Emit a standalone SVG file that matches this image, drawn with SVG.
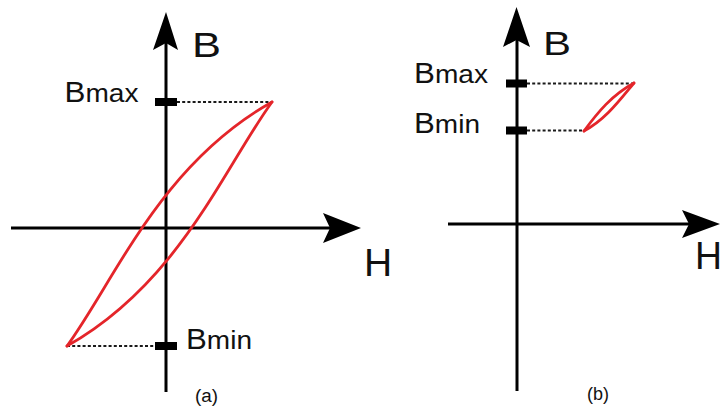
<svg xmlns="http://www.w3.org/2000/svg" width="723" height="408" viewBox="0 0 723 408">
  <style>
    .axis{stroke:#000;stroke-width:3;fill:none}
    .head{fill:#000;stroke:none}
    .tick{fill:#000;stroke:none}
    .dot{stroke:#1a1a1a;stroke-width:1.8;stroke-dasharray:3 2.2;fill:none}
    .loop{stroke:#e4252a;stroke-width:2.8;fill:none;stroke-linejoin:round;stroke-linecap:round}
    text{font-family:"Liberation Sans",Arial,sans-serif;fill:#111}
    .sub{font-size:26px}
  </style>
  <rect width="723" height="408" fill="#fff"/>
  <g id="panel-a">
    <g id="axes-a">
      <line class="axis" x1="166" y1="40" x2="166" y2="392"/>
      <line class="axis" x1="11" y1="228" x2="330" y2="228"/>
      <path class="head" d="M166,12 L178,50 L166,43 L153,50 Z"/>
      <path class="head" d="M361,228 L323,243 L330,228 L323,213 Z"/>
    </g>
    <g id="ticks-a">
      <rect class="tick" x="155" y="98" width="22" height="8"/>
      <rect class="tick" x="155" y="342" width="22" height="8"/>
      <line class="dot" x1="177" y1="102" x2="272" y2="102"/>
      <line class="dot" x1="67" y1="346" x2="155" y2="346"/>
    </g>
    <g id="loop-a">
      <path class="loop" d="M67,346 C115,280 160,165 272,102"/>
      <path class="loop" d="M67,346 C179,283 224,168 272,102"/>
    </g>
    <g id="labels-a">
      <text x="192" y="57" font-size="35" textLength="29" lengthAdjust="spacingAndGlyphs">B</text>
      <text x="364" y="276" font-size="39">H</text>
      <text x="64.5" y="102" font-size="29" textLength="74" lengthAdjust="spacingAndGlyphs">B<tspan class="sub">max</tspan></text>
      <text x="186" y="349" font-size="29" textLength="66" lengthAdjust="spacingAndGlyphs">B<tspan class="sub">min</tspan></text>
      <text x="195" y="401.5" font-size="18" textLength="23" lengthAdjust="spacingAndGlyphs">(a)</text>
    </g>
  </g>
  <g id="panel-b">
    <g id="axes-b">
      <line class="axis" x1="517" y1="40" x2="517" y2="391"/>
      <line class="axis" x1="448" y1="224" x2="690" y2="224"/>
      <path class="head" d="M516.5,7 L530,47 L516.5,40 L503,47 Z"/>
      <path class="head" d="M720,224 L682,238 L689,224 L682,210 Z"/>
    </g>
    <g id="ticks-b">
      <rect class="tick" x="506" y="79.5" width="21" height="8"/>
      <rect class="tick" x="506" y="126.5" width="21" height="8"/>
      <line class="dot" x1="527" y1="83.5" x2="634" y2="83.5"/>
      <line class="dot" x1="527" y1="130.5" x2="584" y2="130.5"/>
    </g>
    <g id="loop-b">
      <path class="loop" d="M584,131 C598,112 612,95 634,83"/>
      <path class="loop" d="M584,131 C605,120 619,101 634,83"/>
    </g>
    <g id="labels-b">
      <text x="543" y="55" font-size="32.5" textLength="28" lengthAdjust="spacingAndGlyphs">B</text>
      <text x="695" y="269" font-size="39" textLength="27" lengthAdjust="spacingAndGlyphs">H</text>
      <text x="414" y="82.5" font-size="29" textLength="74" lengthAdjust="spacingAndGlyphs">B<tspan class="sub">max</tspan></text>
      <text x="414" y="132.5" font-size="29" textLength="66" lengthAdjust="spacingAndGlyphs">B<tspan class="sub">min</tspan></text>
      <text x="587" y="399.5" font-size="18" textLength="22" lengthAdjust="spacingAndGlyphs">(b)</text>
    </g>
  </g>
</svg>
